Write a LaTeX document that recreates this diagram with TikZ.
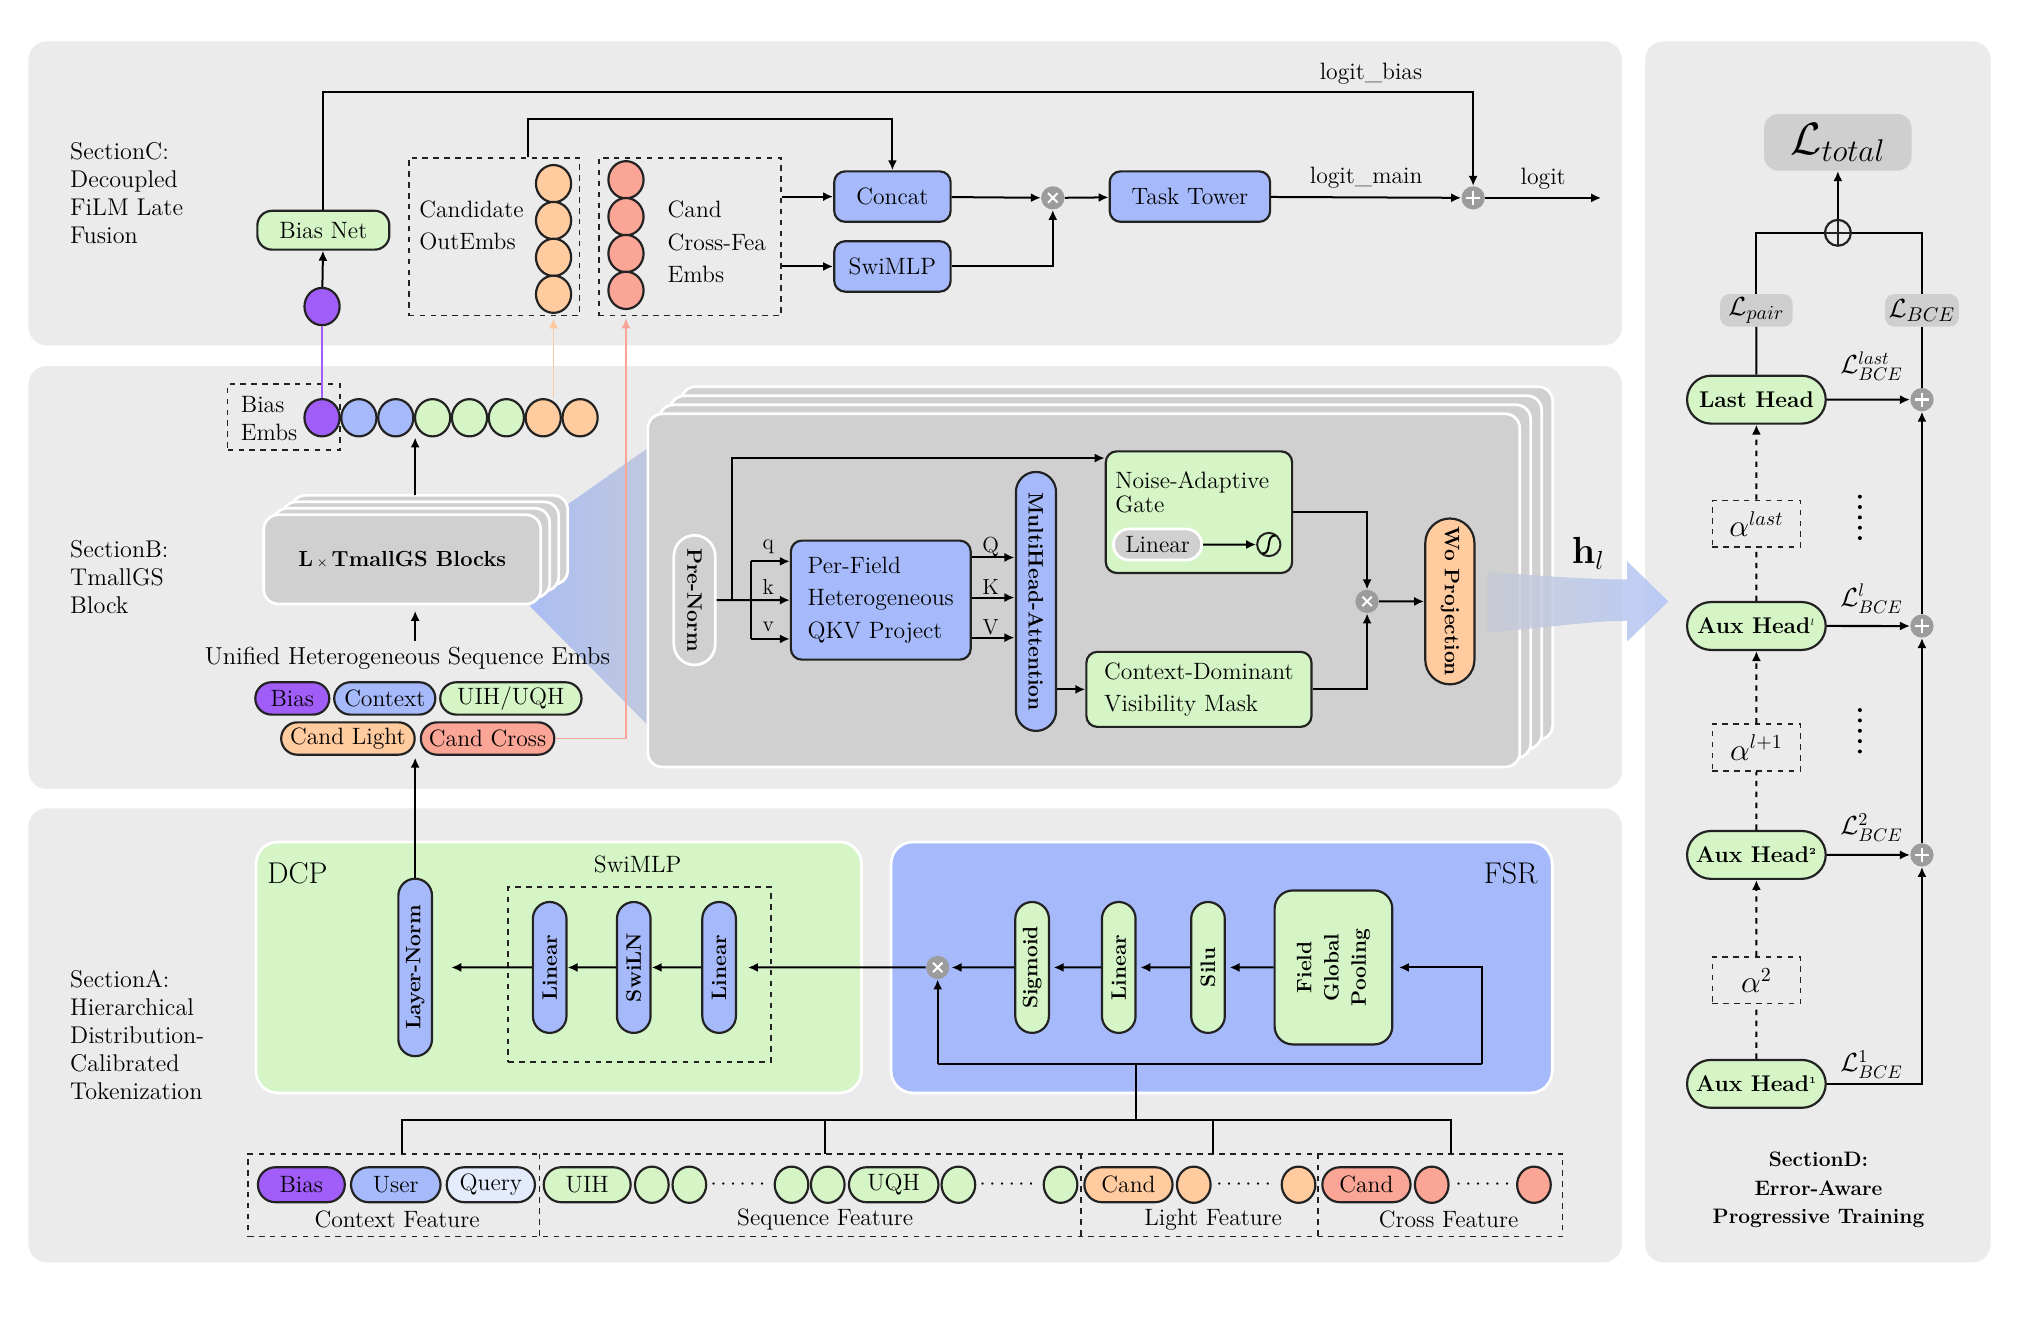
\documentclass[tikz,border=0pt]{standalone}
\usepackage{amsmath,amssymb}
\usetikzlibrary{calc, positioning, shapes.misc, shapes.geometric, arrows.meta}

\definecolor{panelgray}{HTML}{EBEBEB}
\definecolor{blockgray}{HTML}{D0D0D0}
\definecolor{lossgray}{HTML}{CFCFCF}
\definecolor{opgray}{HTML}{9C9C9C}
\definecolor{blu}{HTML}{A6BAFB}
\definecolor{grn}{HTML}{D5F5C6}
\definecolor{org}{HTML}{FFCB9F}
\definecolor{sal}{HTML}{FAA596}
\definecolor{pur}{HTML}{A15DF8}
\definecolor{qry}{HTML}{E3EBFD}
\definecolor{orgline}{HTML}{FCC8A0}
\definecolor{salline}{HTML}{F8A598}
\definecolor{fanblue}{HTML}{ABBEF3}
\definecolor{fangray}{HTML}{C5CADA}
\definecolor{hlgray}{HTML}{C8CBD6}
\definecolor{hlblue}{HTML}{B2C5F7}
\definecolor{outl}{HTML}{222222}

\tikzset{
  arr/.style={-{Latex[length=5.5pt,width=5pt]}, line width=1.1pt},
  conn/.style={line width=1.1pt},
  box/.style={draw=outl, line width=1.2pt, rounded corners=6pt, align=center, inner sep=2pt},
  pill/.style={rounded rectangle, draw=outl, line width=1.2pt, inner sep=1pt, align=center},
  emb/.style={ellipse, draw=outl, line width=1.2pt, minimum width=0.68cm, minimum height=0.72cm, inner sep=0pt},
  femb/.style={emb, fill=grn, minimum width=0.65cm, minimum height=0.7cm},
  grp/.style={draw=outl, dashed, line width=0.9pt, inner sep=0pt},
  stackbox/.style={fill=blockgray, draw=white, line width=1.5pt, rounded corners=8pt},
  panel/.style={fill=panelgray, rounded corners=10pt},
  sect/.style={align=left, anchor=west, inner sep=0pt, font=\fontsize{13.3}{15.4}\selectfont},
  vtext/.style={font=\fontsize{11.5}{15}\selectfont\bfseries},
  headf/.style={font=\fontsize{12.5}{14}\selectfont\bfseries},
  lbl/.style={font=\fontsize{12}{12}\selectfont, inner sep=1pt},
  bcel/.style={font=\fontsize{14}{14}\selectfont, inner sep=1pt},
  tms/.style={circle, fill=opgray, minimum size=0.45cm, inner sep=0pt, path picture={
      \draw[white, line width=1.1pt]
        ([shift={(-2.6pt,-2.6pt)}]path picture bounding box.center) -- ([shift={(2.6pt,2.6pt)}]path picture bounding box.center)
        ([shift={(-2.6pt,2.6pt)}]path picture bounding box.center) -- ([shift={(2.6pt,-2.6pt)}]path picture bounding box.center);}},
  pls/.style={circle, fill=opgray, minimum size=0.45cm, inner sep=0pt, path picture={
      \draw[white, line width=1.3pt]
        ([xshift=-3.8pt]path picture bounding box.center) -- ([xshift=3.8pt]path picture bounding box.center)
        ([yshift=-3.8pt]path picture bounding box.center) -- ([yshift=3.8pt]path picture bounding box.center);}},
  sumc/.style={circle, draw=outl, line width=1.2pt, minimum size=0.5cm, inner sep=0pt, path picture={
      \draw[line width=1.2pt]
        (path picture bounding box.north) -- (path picture bounding box.south)
        (path picture bounding box.west) -- (path picture bounding box.east);}}
}

\begin{document}
\begin{tikzpicture}[x=0.025cm, y=-0.025cm, font=\fontsize{13}{17.8}\selectfont]
\fill[white] (0,0) rectangle (1568,1021);
\useasboundingbox (0,0) rectangle (1568,1021);

% panels
\fill[panel] (22,32) rectangle (1254,267);
\fill[panel] (22,283) rectangle (1254,610);
\fill[panel] (22,625) rectangle (1254,976);
\fill[panel] (1272,32) rectangle (1539,976);

\node[sect] (secc) at (54,149.5) {SectionC:\\Decoupled\\FiLM Late\\Fusion};
\node[sect] (secb) at (54,446.5) {SectionB:\\TmallGS\\Block};
\node[sect] (seca) at (54,800) {SectionA:\\Hierarchical\\Distribution-\\Calibrated\\Tokenization};
\node[align=center, font=\fontsize{11.5}{15.6}\selectfont\bfseries] (secd) at (1406,920) {SectionD:\\Error-Aware\\Progressive Training};

% ---- section C
\node[box, fill=grn, minimum width=2.55cm, minimum height=0.75cm, rounded corners=8pt] (biasnet) at (250,178) {Bias Net};
\node[emb, fill=pur] (bdot) at (249,237) {};
\node[grp, minimum width=3.3cm, minimum height=3.05cm] (cob) at (382,183) {};
\node[align=left, anchor=west, inner sep=0pt] (cobt) at (324,174.5) {Candidate\\OutEmbs};
\foreach \i/\y in {1/142,2/170.5,3/199,4/227.5}
  \node[emb, fill=org] (oc\i) at (428,\y) {};
\node[grp, minimum width=3.525cm, minimum height=3.05cm] (cross) at (533.5,183) {};
\foreach \i/\y in {1/139,2/167.5,3/196,4/224.5}
  \node[emb, fill=sal] (rc\i) at (484,\y) {};
\node[align=left, anchor=west, inner sep=0pt] (crosst) at (516,187) {Cand\\Cross-Fea\\Embs};
\node[box, fill=blu, minimum width=2.25cm, minimum height=0.975cm] (concat) at (690,152) {Concat};
\node[box, fill=blu, minimum width=2.25cm, minimum height=0.975cm] (swimlp) at (690,206) {SwiMLP};
\node[tms] (tm1) at (814,153) {};
\node[box, fill=blu, minimum width=3.1cm, minimum height=0.975cm] (tower) at (920,152) {Task Tower};
\node[pls] (pc) at (1139,153) {};
\coordinate (logit) at (1238,153);
\coordinate (lb) at (1139,71);
\node (lbt) at (1060,57) {logit\_bias};

\draw[arr] (bdot) -- (biasnet);
\draw[arr] (biasnet) |- (lb) -- (pc);
\draw[arr] ($(cob.north)+(26,0)$) |- ($(concat.north)+(0,-40)$) -- (concat);
\draw[arr] (cross.east |- concat) -- (concat);
\draw[arr] (cross.east |- swimlp) -- (swimlp);
\draw[arr] (concat) -- (tm1);
\draw[arr] (swimlp) -| (tm1);
\draw[arr] (tm1) -- (tower);
\draw[arr] (tower) -- node[above=1pt] {logit\_main} (pc);
\draw[arr] (pc) -- node[above=1pt] {logit} (logit);

% ---- section B
\shade[left color=fanblue, right color=fangray] (439,390) -- (520,333) -- (520,580) -- (410,469) -- cycle;

\node[grp, minimum width=2.175cm, minimum height=1.275cm] (bemb) at (219.5,322.5) {};
\node[align=left, anchor=west, inner sep=0pt, font=\fontsize{13}{15}\selectfont] (bembt) at (186,323.5) {Bias\\Embs};
\foreach \i/\c in {1/pur,2/blu,3/blu,4/grn,5/grn,6/grn,7/org,8/org}
  \node[emb, fill=\c] (e\i) at ({249+28.5*(\i-1)},323) {};
\draw[line width=1pt, pur] (bdot) -- (e1);
\draw[arr, orgline, line width=0.9pt, shorten >=1pt] (oc4 |- e7.north) -- (oc4 |- cob.south);

\foreach \i in {3,2,1}
  \draw[stackbox] ($(204,398)+(7*\i,-5*\i)$) rectangle +(214,69);
\node[stackbox, minimum width=5.35cm, minimum height=1.725cm, font=\fontsize{12}{14}\selectfont\bfseries] (tmall) at (311,432.5) {L\,{\scriptsize$\times$}\,TmallGS Blocks};
\coordinate (tmtop) at (321,383);
\draw[arr] (tmtop) -- (tmtop |- e4.south);

\node[font=\fontsize{13.5}{15}\selectfont] (uhse) at (315,509) {Unified Heterogeneous Sequence Embs};
\node[pill, fill=pur, minimum width=1.5cm, minimum height=0.625cm] (pbias) at (226,540) {Bias};
\node[pill, fill=blu, minimum width=2.025cm, minimum height=0.625cm] (pctx) at (297.5,540) {Context};
\node[pill, fill=grn, minimum width=2.8cm, minimum height=0.625cm] (puih) at (395,540) {UIH/UQH};
\node[pill, fill=org, minimum width=2.65cm, minimum height=0.625cm] (clight) at (269,571) {Cand Light};
\node[pill, fill=sal, minimum width=2.65cm, minimum height=0.625cm] (ccross) at (377,571) {Cand Cross};
\draw[arr, salline, line width=0.9pt, shorten >=1pt] (ccross) -| (rc4 |- cross.south);

% TmallGS block detail
\foreach \i in {3,2,1}
  \draw[stackbox] ($(501,320)+(8.5*\i,-7*\i)$) rectangle +(674,273);
\node[stackbox, minimum width=16.85cm, minimum height=6.825cm] (blk) at (838,456.5) {};

\node[pill, rotate=-90, fill=blockgray, draw=white, line width=1.5pt, minimum width=2.575cm, minimum height=0.8cm, vtext] (prenorm) at (537,464) {Pre-Norm};
\node[box, fill=blu, minimum width=3.475cm, minimum height=2.3cm, align=left] (qkv) at (681,464) {Per-Field\\Heterogeneous\\QKV Project};
\node[pill, rotate=-90, fill=blu, minimum width=5.075cm, minimum height=0.775cm, vtext] (mha) at (801,465) {MultiHead-Attention};
\node[box, fill=grn, minimum width=3.6cm, minimum height=2.35cm] (gate) at (927,396) {};
\node[anchor=north west, align=left, inner sep=0pt, font=\fontsize{13}{13.5}\selectfont] (gatet) at (862,364) {Noise-Adaptive\\Gate};
\node[pill, fill=blockgray, draw=white, line width=1.5pt, minimum width=1.775cm, minimum height=0.6cm] (glin) at (895,421) {Linear};
\node[circle, draw=outl, line width=1.1pt, minimum size=0.45cm, inner sep=0pt] (gsig) at (981,421) {};
\draw[line width=1.1pt] ($(gsig)+(-5,7)$) .. controls ($(gsig)+(3,7)$) and ($(gsig)+(-3,-7)$) .. ($(gsig)+(5,-7)$);
\node[box, fill=grn, minimum width=4.35cm, minimum height=1.45cm, align=left] (cdvm) at (927,533) {Context-Dominant\\Visibility Mask};
\node[tms] (tm2) at (1057,465) {};
\node[pill, rotate=-90, fill=org, minimum width=3.275cm, minimum height=0.95cm, vtext] (wo) at (1121,465) {Wo Projection};

\coordinate (sg) at (566,464);
\coordinate (sq) at (581,434);
\coordinate (sv) at (581,494);
\draw[arr] (prenorm) -- (qkv);
\draw[conn] (sq) -- (sv);
\draw[arr] (sq) -- (sq -| qkv.west);
\draw[arr] (sv) -- (sv -| qkv.west);
\draw[arr] (sg) |- ($(gate.north west)+(0,6)$);
\node[lbl] (lq) at (594,423) {q};
\node[lbl] (lk) at (594,454) {k};
\node[lbl] (lv) at (594,485) {v};
\foreach \dy in {-33,-2,29}
  \draw[arr] ($(qkv.east)+(0,\dy)$) -- ++(33,0);
\node[lbl] (lQ) at (766,423) {Q};
\node[lbl] (lK) at (766,454) {K};
\node[lbl] (lV) at (766,485) {V};
\draw[arr] (glin) -- (gsig);
\draw[arr] (mha.north |- cdvm) -- (cdvm);
\draw[arr] (gate) -| (tm2);
\draw[arr] (cdvm) -| (tm2);
\draw[arr] (tm2) -- (wo);

% h_l
\shade[left color=hlgray, right color=hlblue, opacity=0.85] (1150,442) .. controls (1200,446) and (1230,448) .. (1258,448) -- (1258,434) -- (1290,465) -- (1258,496) -- (1258,480) .. controls (1230,480) and (1200,485) .. (1150,489) -- cycle;
\node[font=\fontsize{20}{20}\selectfont] (hl) at (1228,428) {$\mathbf{h}_l$};

% ---- section A
\node[fill=grn, draw=white, line width=1.5pt, rounded corners=12pt, minimum width=11.7cm, minimum height=4.85cm] (dcp) at (432,748) {};
\node[fill=blu, draw=white, line width=1.5pt, rounded corners=12pt, minimum width=12.775cm, minimum height=4.85cm] (fsr) at (944.5,748) {};
\node[font=\fontsize{16.5}{16.5}\selectfont] (dcpt) at (230,675) {DCP};
\node[font=\fontsize{16.5}{16.5}\selectfont] (fsrt) at (1168,675) {FSR};
\node (swt) at (493,668) {SwiMLP};
\node[grp, minimum width=5.075cm, minimum height=3.375cm] (swbox) at (494.5,753.5) {};
\node[pill, rotate=90, fill=blu, minimum width=3.5cm, minimum height=0.65cm, vtext] (lnorm) at (321,748) {Layer-Norm};
\node[pill, rotate=90, fill=blu, minimum width=2.6cm, minimum height=0.65cm, vtext] (lina) at (425,748) {Linear};
\node[pill, rotate=90, fill=blu, minimum width=2.6cm, minimum height=0.65cm, vtext] (swiln) at (490,748) {SwiLN};
\node[pill, rotate=90, fill=blu, minimum width=2.6cm, minimum height=0.65cm, vtext] (linb) at (556,748) {Linear};
\node[tms] (tm3) at (725,748) {};
\node[pill, rotate=90, fill=grn, minimum width=2.6cm, minimum height=0.65cm, vtext] (sigm) at (798,748) {Sigmoid};
\node[pill, rotate=90, fill=grn, minimum width=2.6cm, minimum height=0.65cm, vtext] (linc) at (865,748) {Linear};
\node[pill, rotate=90, fill=grn, minimum width=2.6cm, minimum height=0.65cm, vtext] (silu) at (934,748) {Silu};
\node[box, rotate=90, fill=grn, minimum width=2.975cm, minimum height=2.275cm, rounded corners=10pt, vtext] (pool) at (1031,748) {Field\\Global\\Pooling};

\coordinate (fl) at (725,823);
\coordinate (fr) at (1146,823);
\coordinate (fm) at (878,823);
\draw[conn] (fl) -- (fr);
\draw[arr] (fl) -- (tm3);
\draw[arr, shorten >=3pt] (fr) |- (pool);
\draw[arr, shorten >=2pt] (pool) -- (silu);
\draw[arr, shorten >=2pt] (silu) -- (linc);
\draw[arr, shorten >=2pt] (linc) -- (sigm);
\draw[arr, shorten >=1pt] (sigm) -- (tm3);
\draw[arr, shorten >=6pt] (tm3) -- (linb);
\draw[arr] (linb) -- (swiln);
\draw[arr] (swiln) -- (lina);
\draw[arr, shorten >=10pt] (lina) -- (lnorm);
\draw[arr, shorten >=1pt] (lnorm.east) -- (lnorm.east |- clight.south);
\draw[arr, shorten >=3pt] (uhse.north -| lnorm) -- (tmall.south -| lnorm);

% feature row
\node[grp, minimum width=25.4cm, minimum height=1.6cm] (feat) at (700,924) {};
\foreach \xd in {417,836,1019}
  \draw[dashed, line width=0.9pt, outl] (\xd,892) -- (\xd,956);
\node[pill, fill=pur, minimum width=1.75cm, minimum height=0.675cm] (fbias) at (233,916) {Bias};
\node[pill, fill=blu, minimum width=1.8cm, minimum height=0.675cm] (fuser) at (306,916) {User};
\node[pill, fill=qry, minimum width=1.775cm, minimum height=0.675cm] (fquery) at (379.5,916) {Query};
\node[pill, fill=grn, minimum width=1.75cm, minimum height=0.675cm] (fuih) at (454,916) {UIH};
\node[pill, fill=grn, minimum width=1.8cm, minimum height=0.675cm] (fuqh) at (691,916) {UQH};
\node[pill, fill=org, minimum width=1.775cm, minimum height=0.675cm] (fcl) at (872.5,916) {Cand};
\node[pill, fill=sal, minimum width=1.775cm, minimum height=0.675cm] (fcc) at (1056.5,916) {Cand};
\foreach \i/\xc in {1/504,2/533,3/612,4/640,5/741,6/820}
  \node[femb] (s\i) at (\xc,916) {};
\node[femb, fill=org] (l1) at (923,916) {};
\node[femb, fill=org] (l2) at (1004,916) {};
\node[femb, fill=sal] (x1) at (1107,916) {};
\node[femb, fill=sal] (x2) at (1186,916) {};
\foreach \xc in {572,780,963,1148}
  \node at (\xc,916) {$\cdots\cdots$};
\node (ctxl) at (307,943) {Context Feature};
\node (seql) at (638,943) {Sequence Feature};
\node (ligl) at (938,943) {Light Feature};
\node (crol) at (1120,943) {Cross Feature};

\coordinate (bus) at (878,866);
\coordinate (d1) at (311,892);
\coordinate (d2) at (638,892);
\coordinate (d3) at (938,892);
\coordinate (d4) at (1122,892);
\draw[conn] (fm) -- (bus);
\draw[conn] (d1) |- (d4 |- bus) -- (d4);
\draw[conn] (d2) -- (d2 |- bus);
\draw[conn] (d3) -- (d3 |- bus);

% ---- section D
\node[fill=lossgray, rounded corners=8pt, minimum width=2.85cm, minimum height=1.1cm, font=\fontsize{26}{26}\selectfont] (ltot) at (1421,110) {$\mathcal{L}_{total}$};
\node[sumc] (sumt) at (1421,180) {};
\node[fill=lossgray, rounded corners=5pt, minimum width=1.4cm, minimum height=0.625cm, inner sep=0pt, font=\fontsize{15}{15}\selectfont] (lpair) at (1358,240) {$\mathcal{L}_{pair}$};
\node[fill=lossgray, rounded corners=5pt, minimum width=1.425cm, minimum height=0.625cm, inner sep=0pt, font=\fontsize{15}{15}\selectfont] (lbce) at (1486,240) {$\mathcal{L}_{BCE}$};
\node[pill, fill=grn, minimum width=2.75cm, minimum height=0.925cm, headf] (lhead) at (1358,309) {Last Head};
\node[pill, fill=grn, minimum width=2.75cm, minimum height=0.925cm, headf] (ahl) at (1358,484) {Aux Head\textsuperscript{\tiny$l$}};
\node[pill, fill=grn, minimum width=2.75cm, minimum height=0.925cm, headf] (ah2) at (1358,661) {Aux Head\textsuperscript{\tiny 2}};
\node[pill, fill=grn, minimum width=2.75cm, minimum height=0.925cm, headf] (ah1) at (1358,838) {Aux Head\textsuperscript{\tiny 1}};
\node[pls] (p3) at (1486,309) {};
\node[pls] (p2) at (1486,484) {};
\node[pls] (p1) at (1486,661) {};
\node[grp, minimum width=1.7cm, minimum height=0.9cm, font=\fontsize{16}{16}\selectfont] (alast) at (1358,405) {$\alpha^{last}$};
\node[grp, minimum width=1.7cm, minimum height=0.9cm, font=\fontsize{16}{16}\selectfont] (alp) at (1358,578) {$\alpha^{l+1}$};
\node[grp, minimum width=1.7cm, minimum height=0.9cm, font=\fontsize{16}{16}\selectfont] (a2) at (1358,758) {$\alpha^{2}$};
\node[bcel] (blast) at (1447,283) {$\mathcal{L}^{last}_{BCE}$};
\node[bcel] (bl) at (1447,463) {$\mathcal{L}^{l}_{BCE}$};
\node[bcel] (b2) at (1447,640) {$\mathcal{L}^{2}_{BCE}$};
\node[bcel] (b1) at (1447,823) {$\mathcal{L}^{1}_{BCE}$};
\foreach \k in {0,...,4} {
  \fill (1438,{384+8*\k}) circle (1.1pt);
  \fill (1438,{549+8*\k}) circle (1.1pt);
}

\draw[arr] (sumt) -- (ltot);
\draw[conn] (sumt) -| (lpair);
\draw[conn] (lpair) -- (lhead);
\draw[conn] (sumt) -| (lbce);
\draw[conn] (lbce) -- (p3);
\draw[arr] (lhead) -- (p3);
\draw[arr] (ahl) -- (p2);
\draw[arr] (ah2) -- (p1);
\draw[arr] (ah1) -| (p1);
\draw[arr] (p1) -- (p2);
\draw[arr] (p2) -- (p3);
\draw[conn, dashed] (ahl) -- (alast);
\draw[arr, dashed] (alast) -- (lhead);
\draw[conn, dashed] (ah2) -- (alp);
\draw[arr, dashed] (alp) -- (ahl);
\draw[conn, dashed] (ah1) -- (a2);
\draw[arr, dashed] (a2) -- (ah2);
\end{tikzpicture}
\end{document}
